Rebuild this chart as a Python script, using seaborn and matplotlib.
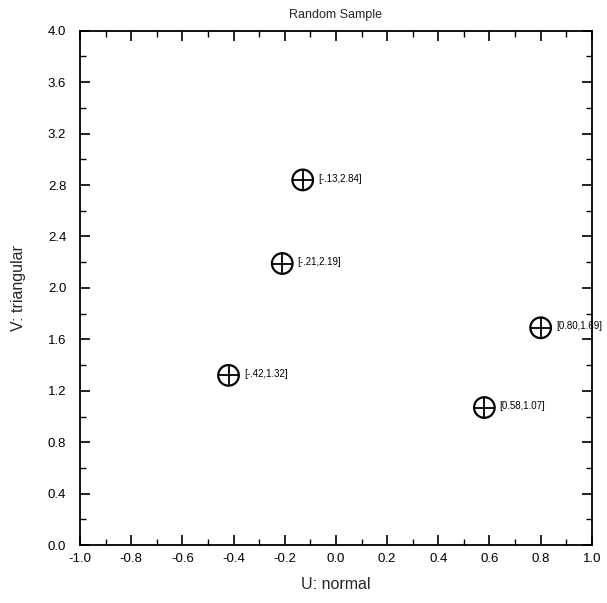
import numpy as np
import pandas as pd
import seaborn as sns
import matplotlib.pyplot as plt
from matplotlib.ticker import MultipleLocator, FormatStrFormatter

# ############### Data ###############
u_vals = [-0.13, -0.21, -0.42, 0.80, 0.58]
v_vals = [2.84, 2.19, 1.32, 1.69, 1.07]
point_labels = ['[-.13,2.84]', '[-.21,2.19]', '[-.42,1.32]', '[0.80,1.69]', '[0.58,1.07]']

df = pd.DataFrame({'U': u_vals, 'V': v_vals})

# ############### Style ###############
sns.set_theme(style='ticks')
plt.rcParams['font.family'] = ['Liberation Sans', 'DejaVu Sans']
plt.rcParams['axes.linewidth'] = 1.3

fig = plt.figure(figsize=(6.07, 6.03), dpi=100)
ax = fig.add_axes([0.132, 0.096, 0.843, 0.853])

# open circle + cross marker
sns.scatterplot(data=df, x='U', y='V', ax=ax, marker='o', s=220,
                facecolor='none', edgecolor='black', linewidth=1.6, legend=False)
sns.scatterplot(data=df, x='U', y='V', ax=ax, marker='+', s=220,
                color='black', linewidth=1.3, legend=False)

for u, v, lab in zip(u_vals, v_vals, point_labels):
    ax.annotate(lab, (u, v), xytext=(11, 1), textcoords='offset points',
                ha='left', va='center', fontsize=7, color='black',
                annotation_clip=False)

ax.set_xlim(-1.0, 1.0)
ax.set_ylim(0.0, 4.0)
ax.xaxis.set_major_locator(MultipleLocator(0.2))
ax.xaxis.set_minor_locator(MultipleLocator(0.1))
ax.yaxis.set_major_locator(MultipleLocator(0.4))
ax.yaxis.set_minor_locator(MultipleLocator(0.2))
ax.xaxis.set_major_formatter(FormatStrFormatter('%.1f'))
ax.yaxis.set_major_formatter(FormatStrFormatter('%.1f'))
ax.tick_params(which='both', direction='in', top=True, right=True, color='black',
               labelsize=9.5, labelcolor='black')
ax.tick_params(which='major', length=7, width=1.2)
ax.tick_params(axis='x', which='major', pad=6)
ax.tick_params(axis='y', which='major', pad=10)
ax.tick_params(which='minor', length=4, width=1.0)
for sp in ax.spines.values():
    sp.set_visible(True)
    sp.set_color('black')

ax.set_xlabel('U: normal', fontsize=11.5, labelpad=8)
ax.set_ylabel('V: triangular', fontsize=11.5, labelpad=16)
ax.set_title('Random Sample', fontsize=9, pad=9)

fig.savefig('out.png', dpi=100)
